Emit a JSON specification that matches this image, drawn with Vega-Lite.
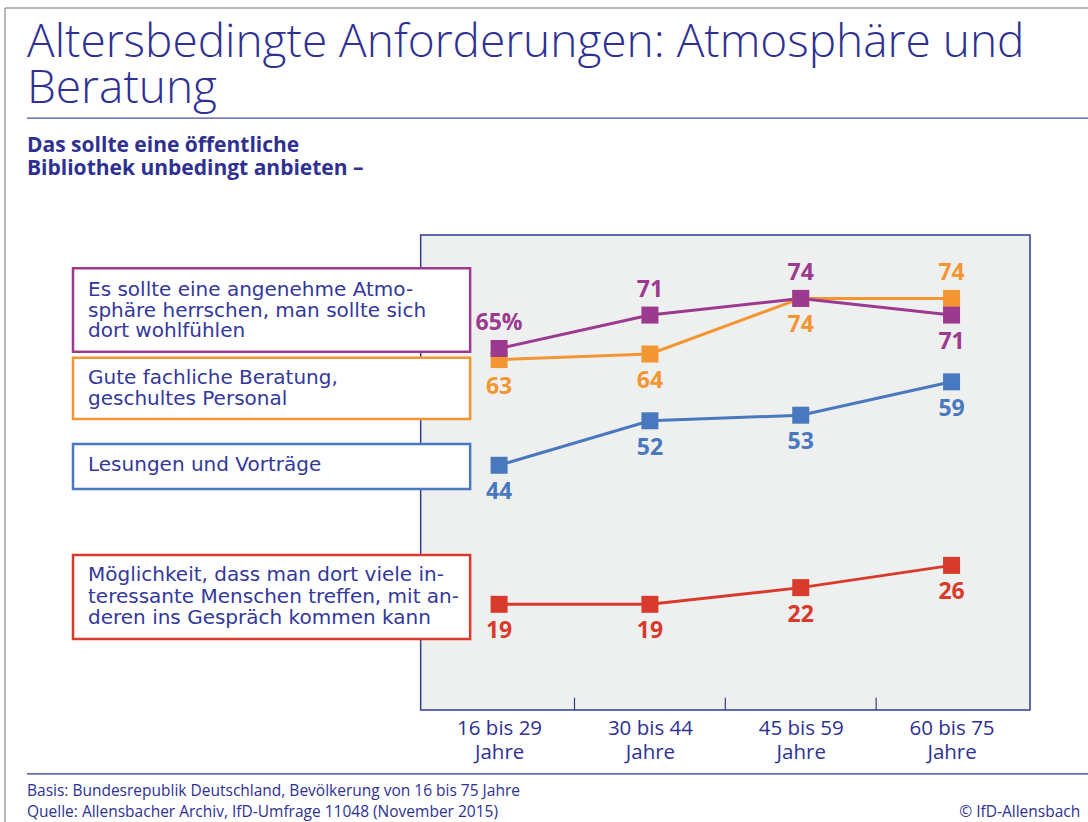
{
  "$schema": "https://vega.github.io/schema/vega-lite/v6.json",
  "autosize": {"type": "none"},
  "padding": {"left": 27, "top": 235, "right": 58, "bottom": 112},
  "width": 1003,
  "height": 475,
  "background": "white",
  "config": {"view": {"stroke": null}, "font": "Open Sans"},
  "title": {
    "text": ["Altersbedingte Anforderungen: Atmosphäre und", "Beratung"],
    "anchor": "start",
    "frame": "group",
    "font": "Open Sans",
    "fontWeight": 300,
    "fontSize": 46,
    "lineHeight": 46,
    "color": "#2e3192",
    "offset": -106
  },
  "datasets": {
    "survey": [
      {"series": "Menschen", "age": "16 bis 29 Jahre", "idx": 0, "value": 19, "label": "19"},
      {"series": "Menschen", "age": "30 bis 44 Jahre", "idx": 1, "value": 19, "label": "19"},
      {"series": "Menschen", "age": "45 bis 59 Jahre", "idx": 2, "value": 22, "label": "22"},
      {"series": "Menschen", "age": "60 bis 75 Jahre", "idx": 3, "value": 26, "label": "26"},
      {"series": "Lesungen", "age": "16 bis 29 Jahre", "idx": 0, "value": 44, "label": "44"},
      {"series": "Lesungen", "age": "30 bis 44 Jahre", "idx": 1, "value": 52, "label": "52"},
      {"series": "Lesungen", "age": "45 bis 59 Jahre", "idx": 2, "value": 53, "label": "53"},
      {"series": "Lesungen", "age": "60 bis 75 Jahre", "idx": 3, "value": 59, "label": "59"},
      {"series": "Beratung", "age": "16 bis 29 Jahre", "idx": 0, "value": 63, "label": "63"},
      {"series": "Beratung", "age": "30 bis 44 Jahre", "idx": 1, "value": 64, "label": "64"},
      {"series": "Beratung", "age": "45 bis 59 Jahre", "idx": 2, "value": 74, "label": "74"},
      {"series": "Beratung", "age": "60 bis 75 Jahre", "idx": 3, "value": 74, "label": "74"},
      {"series": "Atmosphäre", "age": "16 bis 29 Jahre", "idx": 0, "value": 65, "label": "65%"},
      {"series": "Atmosphäre", "age": "30 bis 44 Jahre", "idx": 1, "value": 71, "label": "71"},
      {"series": "Atmosphäre", "age": "45 bis 59 Jahre", "idx": 2, "value": 74, "label": "74"},
      {"series": "Atmosphäre", "age": "60 bis 75 Jahre", "idx": 3, "value": 71, "label": "71"}
    ],
    "one": [{"k": 1}],
    "bounds": [{"b": 0.5}, {"b": 1.5}, {"b": 2.5}]
  },
  "layer": [
    {
      "data": {"name": "one"},
      "mark": {"type": "rect", "fill": "#eef0ef", "stroke": "#2f3d8f", "strokeWidth": 1.5},
      "encoding": {
        "x": {
          "datum": -0.52, "type": "quantitative",
          "scale": {"domain": [-3.13, 3.52], "nice": false, "zero": false},
          "axis": {
            "title": null,
            "values": [0, 1, 2, 3],
            "labelExpr": "[['16 bis 29','Jahre'],['30 bis 44','Jahre'],['45 bis 59','Jahre'],['60 bis 75','Jahre']][datum.value]",
            "labelFont": "Open Sans",
            "labelFontSize": 20.5,
            "labelLineHeight": 24.5,
            "labelColor": "#2e3192",
            "labelPadding": 8,
            "labelFlush": false,
            "labelOverlap": false,
            "ticks": false,
            "domain": false,
            "grid": false
          }
        },
        "x2": {"datum": 3.52},
        "y": {"datum": 0, "type": "quantitative", "scale": {"domain": [0, 85.4], "nice": false, "zero": false}, "axis": null},
        "y2": {"datum": 85.4}
      }
    },
    {
      "data": {"name": "one"},
      "mark": {"type": "rule", "color": "#a0a0a0", "strokeWidth": 1.5, "clip": false},
      "encoding": {"x": {"datum": -3.276, "type": "quantitative"}, "x2": {"datum": 3.91}, "y": {"datum": 126.2, "type": "quantitative"}}
    },
    {
      "data": {"name": "one"},
      "mark": {"type": "rule", "color": "#a0a0a0", "strokeWidth": 1.5, "clip": false},
      "encoding": {"x": {"datum": -3.276, "type": "quantitative"}, "y": {"datum": 126.2, "type": "quantitative"}, "y2": {"datum": -20.2}}
    },
    {
      "data": {"name": "one"},
      "mark": {"type": "rule", "color": "#4a4f9c", "strokeWidth": 1.2, "clip": false},
      "encoding": {"x": {"datum": -3.13, "type": "quantitative"}, "x2": {"datum": 3.91}, "y": {"datum": 106.4, "type": "quantitative"}}
    },
    {
      "data": {"name": "one"},
      "mark": {"type": "rule", "color": "#2e3192", "strokeWidth": 1.2, "clip": false},
      "encoding": {"x": {"datum": -3.13, "type": "quantitative"}, "x2": {"datum": 3.91}, "y": {"datum": -11.5, "type": "quantitative"}}
    },
    {
      "data": {"name": "one"},
      "mark": {
        "type": "text", "clip": false, "align": "left", "baseline": "top", "color": "#2e3192",
        "font": "Open Sans", "fontWeight": "bold", "fontSize": 21, "lineHeight": 23.5,
        "text": ["Das sollte eine öffentliche", "Bibliothek unbedingt anbieten –"]
      },
      "encoding": {"x": {"datum": -3.13, "type": "quantitative"}, "y": {"datum": 103.4, "type": "quantitative"}}
    },
    {
      "data": {"name": "bounds"},
      "mark": {"type": "rule", "strokeWidth": 1.2, "color": "#2f3d8f"},
      "encoding": {
        "x": {"field": "b", "type": "quantitative"},
        "y": {"datum": 0, "type": "quantitative"}, "y2": {"datum": 2.2}
      }
    },
    {
      "data": {"name": "one"},
      "mark": {"type": "rect", "fill": "white", "strokeWidth": 2.5, "stroke": "#9b3a8f"},
      "encoding": {"x": {"datum": -2.825, "type": "quantitative"}, "x2": {"datum": -0.192}, "y": {"datum": 79.41, "type": "quantitative"}, "y2": {"datum": 64.42}}
    },
    {
      "data": {"name": "one"},
      "mark": {"type": "rect", "fill": "white", "strokeWidth": 2.5, "stroke": "#f39632"},
      "encoding": {"x": {"datum": -2.825, "type": "quantitative"}, "x2": {"datum": -0.192}, "y": {"datum": 63.34, "type": "quantitative"}, "y2": {"datum": 52.32}}
    },
    {
      "data": {"name": "one"},
      "mark": {"type": "rect", "fill": "white", "strokeWidth": 2.5, "stroke": "#4a78be"},
      "encoding": {"x": {"datum": -2.825, "type": "quantitative"}, "x2": {"datum": -0.192}, "y": {"datum": 47.82, "type": "quantitative"}, "y2": {"datum": 39.73}}
    },
    {
      "data": {"name": "one"},
      "mark": {"type": "rect", "fill": "white", "strokeWidth": 2.5, "stroke": "#d83b2c"},
      "encoding": {"x": {"datum": -2.825, "type": "quantitative"}, "x2": {"datum": -0.192}, "y": {"datum": 27.87, "type": "quantitative"}, "y2": {"datum": 12.77}}
    },
    {
      "data": {"name": "one"},
      "mark": {
        "type": "text", "align": "left", "baseline": "middle", "font": "DejaVu Sans", "fontSize": 20, "lineHeight": 20.5, "color": "#33389a",
        "text": ["Es sollte eine angenehme Atmo-", "sphäre herrschen, man sollte sich", "dort wohlfühlen"]
      },
      "encoding": {"x": {"datum": -2.7255, "type": "quantitative"}, "y": {"datum": 75.51, "type": "quantitative"}}
    },
    {
      "data": {"name": "one"},
      "mark": {
        "type": "text", "align": "left", "baseline": "middle", "font": "DejaVu Sans", "fontSize": 20, "lineHeight": 20.5, "color": "#33389a",
        "text": ["Gute fachliche Beratung,", "geschultes Personal"]
      },
      "encoding": {"x": {"datum": -2.7255, "type": "quantitative"}, "y": {"datum": 59.69, "type": "quantitative"}}
    },
    {
      "data": {"name": "one"},
      "mark": {
        "type": "text", "align": "left", "baseline": "middle", "font": "DejaVu Sans", "fontSize": 20, "lineHeight": 20.5, "color": "#33389a",
        "text": "Lesungen und Vorträge"
      },
      "encoding": {"x": {"datum": -2.7255, "type": "quantitative"}, "y": {"datum": 44.05, "type": "quantitative"}}
    },
    {
      "data": {"name": "one"},
      "mark": {
        "type": "text", "align": "left", "baseline": "middle", "font": "DejaVu Sans", "fontSize": 20, "lineHeight": 21.5, "color": "#33389a",
        "text": ["Möglichkeit, dass man dort viele in-", "teressante Menschen treffen, mit an-", "deren ins Gespräch kommen kann"]
      },
      "encoding": {"x": {"datum": -2.7255, "type": "quantitative"}, "y": {"datum": 24.27, "type": "quantitative"}}
    },
    {
      "data": {"name": "survey"},
      "layer": [
        {"mark": {"type": "line", "strokeWidth": 3}, "encoding": {"order": {"field": "idx"}}},
        {"mark": {"type": "point", "shape": "square", "filled": true, "opacity": 1, "size": 289}},
        {
          "transform": [{"filter": "(datum.series == 'Atmosphäre' && datum.idx < 3) || (datum.series == 'Beratung' && datum.idx == 3)"}],
          "mark": {"type": "text", "dy": -25, "baseline": "middle", "font": "Open Sans", "fontWeight": "bold", "fontSize": 23},
          "encoding": {"text": {"field": "label"}}
        },
        {
          "transform": [{"filter": "!((datum.series == 'Atmosphäre' && datum.idx < 3) || (datum.series == 'Beratung' && datum.idx == 3))"}],
          "mark": {"type": "text", "dy": 27, "baseline": "middle", "font": "Open Sans", "fontWeight": "bold", "fontSize": 23},
          "encoding": {"text": {"field": "label"}}
        }
      ],
      "encoding": {
        "x": {"field": "idx", "type": "quantitative"},
        "y": {"field": "value", "type": "quantitative"},
        "color": {
          "field": "series",
          "type": "nominal",
          "scale": {
            "domain": ["Atmosphäre", "Beratung", "Lesungen", "Menschen"],
            "range": ["#9b3a8f", "#f39632", "#4a78be", "#d83b2c"]
          },
          "legend": null
        }
      }
    },
    {
      "data": {"name": "one"},
      "mark": {"type": "text", "clip": false, "align": "left", "baseline": "alphabetic", "font": "Open Sans", "fontSize": 15.5, "color": "#2e3192",
        "text": "Basis: Bundesrepublik Deutschland, Bevölkerung von 16 bis 75 Jahre"},
      "encoding": {"x": {"datum": -3.13, "type": "quantitative"}, "y": {"datum": -15.4, "type": "quantitative"}}
    },
    {
      "data": {"name": "one"},
      "mark": {"type": "text", "clip": false, "align": "left", "baseline": "alphabetic", "font": "Open Sans", "fontSize": 15.5, "color": "#2e3192",
        "text": "Quelle: Allensbacher Archiv, IfD-Umfrage 11048 (November 2015)"},
      "encoding": {"x": {"datum": -3.13, "type": "quantitative"}, "y": {"datum": -19.3, "type": "quantitative"}}
    },
    {
      "data": {"name": "one"},
      "mark": {"type": "text", "clip": false, "align": "right", "baseline": "alphabetic", "font": "Open Sans", "fontSize": 15.5, "color": "#2e3192",
        "text": "© IfD-Allensbach"},
      "encoding": {"x": {"datum": 3.853, "type": "quantitative"}, "y": {"datum": -19.3, "type": "quantitative"}}
    }
  ]
}
